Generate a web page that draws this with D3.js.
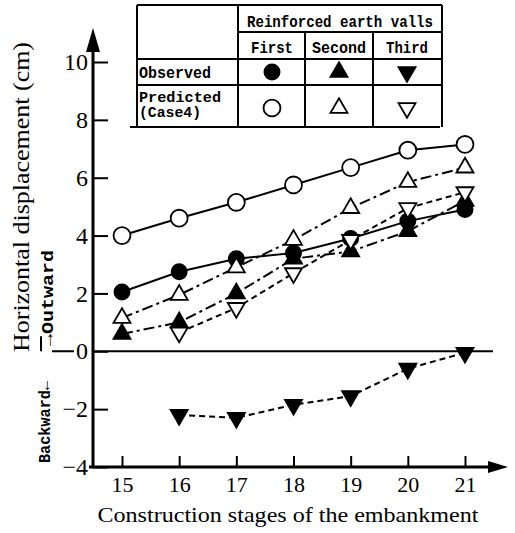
<!DOCTYPE html>
<html>
<head>
<meta charset="utf-8">
<script src="https://cdn.jsdelivr.net/npm/d3@7"></script>
<style>
  body { margin: 0; background: #fff; }
  svg { display: block; }
  .serif { font-family: "Liberation Serif", "DejaVu Serif", serif; }
  .mono { font-family: "Liberation Mono", "DejaVu Sans Mono", monospace; font-weight: bold; }
</style>
</head>
<body>
<svg id="chart" width="515" height="533"></svg>
<script>
// construction stages (x axis)
const stages = [15, 16, 17, 18, 19, 20, 21];
const yTicks = [-4, -2, 0, 2, 4, 6, 8, 10];

// horizontal displacement (cm), null = no reading
const predictedFirst = [4.0, 4.6, 5.15, 5.75, 6.35, 6.95, 7.15];
const observedFirst = [2.05, 2.75, 3.2, 3.4, 3.9, 4.5, 4.9];
const predictedSecond = [1.15, 1.95, 2.9, 3.85, 4.95, 5.85, 6.35];
const observedSecond = [0.6, 1.0, 2.0, 3.2, 3.45, 4.15, 5.2];
const predictedThird = [null, 0.65, 1.5, 2.7, 3.85, 4.95, 5.5];
const observedThird = [null, -2.2, -2.3, -1.85, -1.55, -0.6, -0.05];

const walls = ['First', 'Second', 'Third'];

const series = [
  { values: predictedFirst, wall: 0, kind: 'pred', dash: null },
  { values: observedFirst, wall: 0, kind: 'obs', dash: null },
  { values: predictedSecond, wall: 1, kind: 'pred', dash: '11,4,3,4' },
  { values: observedSecond, wall: 1, kind: 'obs', dash: '11,4,3,4' },
  { values: predictedThird, wall: 2, kind: 'pred', dash: '6,4' },
  { values: observedThird, wall: 2, kind: 'obs', dash: '6,4' }
];

const svg = d3.select('#chart');
const x = d3.scaleLinear().domain([15, 21]).range([122, 465]);
const y = d3.scaleLinear().domain([-4, 10]).range([467, 62]);

// marker shapes per wall
function markerPath(wall, kind) {
  if (wall === 0) return d3.symbol(d3.symbolCircle, kind === 'obs' ? 180 : 225)();
  return d3.symbol(d3.symbolTriangle, 125)();
}
function drawMarker(g, s) {
  g.append('path')
    .attr('d', markerPath(s.wall, s.kind))
    .attr('transform', `rotate(${s.wall === 2 ? 180 : 0})`)
    .attr('fill', s.kind === 'obs' ? '#000' : '#fff')
    .attr('stroke', '#000')
    .attr('stroke-width', 1.8);
}

// axes
const axX = x(15) - 29;
const yAxis = d3.axisLeft(y).tickValues(yTicks).tickSizeInner(-15).tickSizeOuter(0).tickPadding(5)
  .tickFormat(d => (d < 0 ? '\u2212' + Math.abs(d) : d));
const gy = svg.append('g').attr('transform', `translate(${axX},0)`).call(yAxis);
gy.select('.domain').remove();
gy.selectAll('line').attr('stroke', '#000').attr('stroke-width', 2);
gy.selectAll('text').attr('class', 'serif').attr('font-size', 24).attr('fill', '#000');

const xAxis = d3.axisBottom(x).tickValues(stages).tickSizeInner(-11).tickSizeOuter(0).tickPadding(9)
  .tickFormat(d3.format('d'));
const gx = svg.append('g').attr('transform', `translate(0,${y(-4)})`).call(xAxis);
gx.select('.domain').remove();
gx.selectAll('line').attr('stroke', '#000').attr('stroke-width', 2);
gx.selectAll('text').attr('class', 'serif').attr('font-size', 22).attr('fill', '#000');

// y axis line + arrow
svg.append('line').attr('x1', axX).attr('x2', axX).attr('y1', y(-4) + 1).attr('y2', 45)
  .attr('stroke', '#000').attr('stroke-width', 3);
svg.append('path').attr('d', `M${axX},28 L${axX - 7},52 L${axX + 7},52 Z`).attr('fill', '#000');
// x axis line + arrow
svg.append('line').attr('x1', axX - 4).attr('x2', 495).attr('y1', y(-4)).attr('y2', y(-4))
  .attr('stroke', '#000').attr('stroke-width', 3);
svg.append('path').attr('d', `M508,${y(-4)} L488,${y(-4) - 6} L488,${y(-4) + 6} Z`).attr('fill', '#000');
// zero line
svg.append('line').attr('x1', axX).attr('x2', 493).attr('y1', y(0)).attr('y2', y(0))
  .attr('stroke', '#000').attr('stroke-width', 2);
svg.append('path').attr('d', `M41,${y(0) - 15} L41,${y(0)} M52,${y(0)} L74,${y(0)}`)
  .attr('stroke', '#000').attr('stroke-width', 2).attr('fill', 'none');

// axis titles
svg.append('text').attr('class', 'serif')
  .attr('transform', `translate(29,197) rotate(-90)`)
  .attr('text-anchor', 'middle').attr('font-size', 24)
  .attr('textLength', 310).attr('lengthAdjust', 'spacingAndGlyphs')
  .text('Horizontal displacement (cm)');
svg.append('text').attr('class', 'mono')
  .attr('transform', `translate(53,298) rotate(-90)`)
  .attr('text-anchor', 'middle').attr('font-size', 17)
  .attr('textLength', 96).attr('lengthAdjust', 'spacingAndGlyphs')
  .text('\u2192Outward');
svg.append('text').attr('class', 'mono')
  .attr('transform', `translate(50,422) rotate(-90)`)
  .attr('text-anchor', 'middle').attr('font-size', 17)
  .attr('textLength', 82).attr('lengthAdjust', 'spacingAndGlyphs')
  .text('Backward\u2190');
svg.append('text').attr('class', 'serif')
  .attr('x', 288).attr('y', 522).attr('text-anchor', 'middle').attr('font-size', 22)
  .attr('textLength', 381).attr('lengthAdjust', 'spacingAndGlyphs')
  .text('Construction stages of the embankment');

// lines
const line = d3.line()
  .defined(d => d[1] !== null)
  .x(d => x(d[0]))
  .y(d => y(d[1]));
const plot = svg.append('g');
series.forEach(s => {
  plot.append('path')
    .datum(stages.map((st, i) => [st, s.values[i]]))
    .attr('d', line)
    .attr('fill', 'none')
    .attr('stroke', '#000')
    .attr('stroke-width', 2)
    .attr('stroke-dasharray', s.dash);
});
series.forEach(s => {
  stages.forEach((st, i) => {
    if (s.values[i] === null) return;
    const g = plot.append('g').attr('transform', `translate(${x(st)},${y(s.values[i])})`);
    drawMarker(g, s);
  });
});

// legend table
const tbl = svg.append('g');
const frame = [
  [137, 5, 442, 5], [238, 32, 442, 32], [137, 59, 442, 59], [137, 85, 442, 85], [130, 127, 440, 127],
  [137, 5, 137, 127], [238, 5, 238, 127], [305, 32, 305, 127], [373, 32, 373, 127], [442, 5, 442, 127]
];
tbl.selectAll('line').data(frame).join('line')
  .attr('x1', d => d[0]).attr('y1', d => d[1]).attr('x2', d => d[2]).attr('y2', d => d[3])
  .attr('stroke', '#000').attr('stroke-width', 2);
const cols = [272, 339, 407];
const tText = (tx, ty, str, len, size, anchor) => tbl.append('text').attr('class', 'mono')
  .attr('x', tx).attr('y', ty).attr('font-size', size).attr('text-anchor', anchor || 'start')
  .attr('textLength', len).attr('lengthAdjust', 'spacingAndGlyphs').text(str);
tText(247, 27, 'Reinforced earth valls', 186, 17);
walls.forEach((w, i) => tText(cols[i], 53, w, [42, 54, 42][i], 17, 'middle'));
tText(139, 78, 'Observed', 72, 17);
tText(139, 102, 'Predicted', 82, 14);
tText(139, 117, '(Case4)', 62, 14);
series.forEach(s => {
  const g = tbl.append('g').attr('transform', `translate(${cols[s.wall]},${s.kind === 'obs' ? 72 : 108})`);
  drawMarker(g, s);
});
</script>
</body>
</html>
